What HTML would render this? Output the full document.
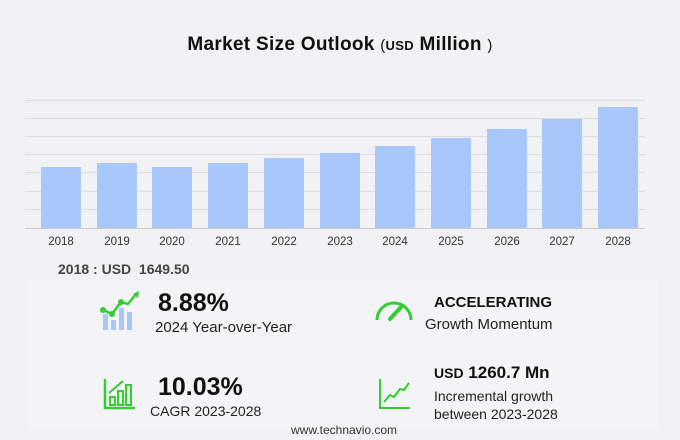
<!DOCTYPE html>
<html><head><style>
body{margin:0;width:680px;height:440px;background:#f2f2f4;font-family:"Liberation Sans",sans-serif;position:relative;overflow:hidden}
.a{position:absolute;white-space:nowrap;line-height:1}
.g{position:absolute;left:25px;width:620px;height:1px;background:#dcdce0}
.b{position:absolute;width:40px;background:#a8c8fc;bottom:212px}
.y{position:absolute;top:236px;font-size:11.5px;color:#333;width:40px;text-align:center}
</style></head><body>
<div class="a" style="left:0;width:680px;text-align:center;top:35px;font-size:19px;font-weight:bold;color:#111;letter-spacing:0.3px">Market Size Outlook <span style="font-weight:normal;font-size:15px">(</span><span style="font-size:13px">USD</span> Million <span style="font-weight:normal;font-size:15px">)</span></div>
<div class="g" style="top:100px"></div><div class="g" style="top:118px"></div><div class="g" style="top:136px"></div><div class="g" style="top:154px"></div><div class="g" style="top:172px"></div><div class="g" style="top:191px"></div><div class="g" style="top:209px"></div><div class="g" style="top:228px;background:#c8c8cc"></div>
<div class="b" style="left:41px;top:167px"></div><div class="b" style="left:97px;top:163px"></div><div class="b" style="left:152px;top:167px"></div><div class="b" style="left:208px;top:163px"></div><div class="b" style="left:264px;top:158px"></div><div class="b" style="left:320px;top:153px"></div><div class="b" style="left:375px;top:146px"></div><div class="b" style="left:431px;top:138px"></div><div class="b" style="left:487px;top:129px"></div><div class="b" style="left:542px;top:119px"></div><div class="b" style="left:598px;top:107px"></div>
<div class="y" style="left:41px">2018</div><div class="y" style="left:97px">2019</div><div class="y" style="left:152px">2020</div><div class="y" style="left:208px">2021</div><div class="y" style="left:264px">2022</div><div class="y" style="left:320px">2023</div><div class="y" style="left:375px">2024</div><div class="y" style="left:431px">2025</div><div class="y" style="left:487px">2026</div><div class="y" style="left:542px">2027</div><div class="y" style="left:598px">2028</div>
<div style="position:absolute;left:28px;top:280px;width:630px;height:150px;background:#f4f4f6"></div>
<div class="a" style="left:58px;top:262px;font-size:14px;font-weight:bold;color:#444">2018 : USD&nbsp; 1649.50</div>
<svg style="position:absolute;left:98px;top:290px" width="44" height="44">
<rect x="5" y="24" width="5" height="16" fill="#a8c8fc"/><rect x="13" y="30" width="5" height="10" fill="#a8c8fc"/><rect x="21" y="18" width="5" height="22" fill="#a8c8fc"/><rect x="29" y="22" width="5" height="18" fill="#a8c8fc"/>
<polyline points="5,20 14,24 23,12 30,14 38,4" fill="none" stroke="#3c3" stroke-width="2.5"/>
<circle cx="5" cy="20" r="3" fill="#3c3"/><circle cx="14" cy="24" r="3" fill="#3c3"/><circle cx="23" cy="12" r="3" fill="#3c3"/><path d="M35,4 L41,1 L40,8Z" fill="#3c3"/></svg>
<div class="a" style="left:158px;top:291px;font-size:25px;font-weight:bold;color:#111">8.88%</div>
<div class="a" style="left:155px;top:320px;font-size:15px;color:#222">2024 Year-over-Year</div>
<svg style="position:absolute;left:374px;top:296px" width="40" height="30">
<path d="M3,24 A17,17 0 1 1 37,24" fill="none" stroke="#3c3" stroke-width="3"/>
<line x1="16" y1="23" x2="28" y2="10" stroke="#3c3" stroke-width="4" stroke-linecap="round"/></svg>
<div class="a" style="left:434px;top:295px;font-size:15px;font-weight:bold;color:#111">ACCELERATING</div>
<div class="a" style="left:425px;top:317px;font-size:15px;color:#222">Growth Momentum</div>
<svg style="position:absolute;left:103px;top:377px" width="34" height="34">
<path d="M2,2 V31 H32" fill="none" stroke="#3c3" stroke-width="2.5"/>
<rect x="7" y="20" width="5" height="8" fill="none" stroke="#3c3" stroke-width="2"/><rect x="15" y="14" width="5" height="14" fill="none" stroke="#3c3" stroke-width="2"/><rect x="23" y="8" width="5" height="20" fill="none" stroke="#3c3" stroke-width="2"/>
<line x1="6" y1="16" x2="20" y2="4" stroke="#3c3" stroke-width="2"/></svg>
<div class="a" style="left:158px;top:375px;font-size:25px;font-weight:bold;color:#111">10.03%</div>
<div class="a" style="left:150px;top:404px;font-size:14px;color:#222">CAGR 2023-2028</div>
<svg style="position:absolute;left:378px;top:377px" width="34" height="34">
<path d="M2,2 V31 H32" fill="none" stroke="#3c3" stroke-width="2"/>
<polyline points="6,25 12,18 16,20 22,12 26,13 31,6" fill="none" stroke="#3c3" stroke-width="2"/></svg>
<div class="a" style="left:434px;top:364px;font-size:17px;font-weight:bold;color:#111"><span style="font-size:14px">USD</span> 1260.7 Mn</div>
<div class="a" style="left:434px;top:389px;font-size:14px;color:#222">Incremental growth</div>
<div class="a" style="left:434px;top:407px;font-size:14px;color:#222">between 2023-2028</div>
<div class="a" style="left:291px;top:424px;font-size:12px;color:#333">www.technavio.com</div>
</body></html>
